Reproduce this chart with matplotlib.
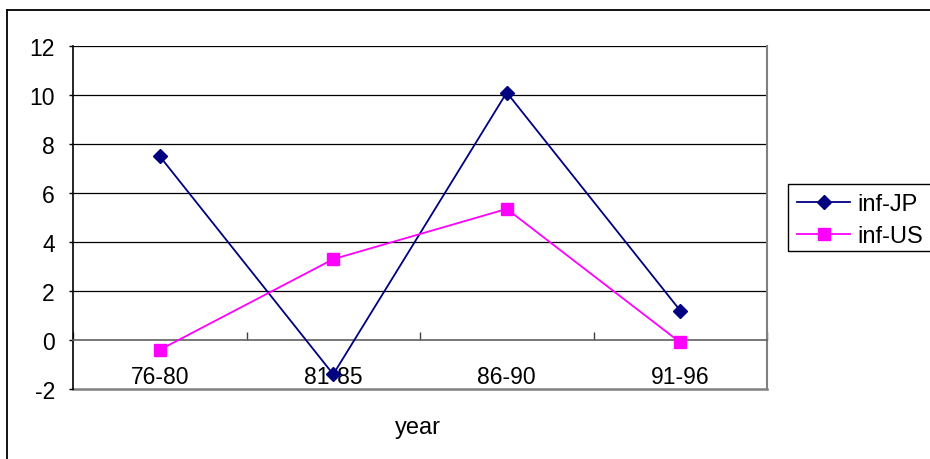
import numpy as np
import matplotlib.pyplot as plt
import matplotlib.patches as patches
from matplotlib.lines import Line2D

plt.rcParams['font.family'] = ['Liberation Sans', 'DejaVu Sans']
plt.rcParams['font.size'] = 16.5

periods = ['76-80', '81-85', '86-90', '91-96']
inf_jp = [7.5, -1.4, 10.1, 1.2]
inf_us = [-0.4, 3.3, 5.35, -0.1]
yticks = [-2, 0, 2, 4, 6, 8, 10, 12]

W, H = 930, 460
fig = plt.figure(figsize=(W / 100, H / 100), dpi=100)

# plot area in pixel coords of the reference
x0, x1, ytop, ybot = 73, 767, 47, 390
ax = fig.add_axes([x0 / W, 1 - ybot / H, (x1 - x0) / W, (ybot - ytop) / H])

x = np.arange(len(periods))
ax.plot(x, inf_jp, color='#000080', lw=1.3, marker='D', ms=7.5, label='inf-JP', zorder=4)
ax.plot(x, inf_us, color='#FF00FF', lw=1.3, marker='s', ms=9, label='inf-US', zorder=4)

ax.set_xlim(-0.5, len(periods) - 0.5)
ax.set_ylim(-2, 12)
ax.set_yticks(yticks)
ax.set_yticklabels([str(v) for v in yticks])

for v in yticks[2:]:
    ax.axhline(v, color='black', lw=0.9, zorder=1)

# x axis crosses at zero, Excel style
ax.spines['bottom'].set_position(('data', 0))
ax.spines['bottom'].set_color('#606060')
ax.spines['bottom'].set_linewidth(1.2)
ax.spines['top'].set_visible(False)
ax.spines['right'].set_color('#808080')
ax.spines['right'].set_linewidth(1.5)
ax.spines['left'].set_color('black')
ax.spines['left'].set_linewidth(1.2)
ax.axhline(-2, color='#808080', lw=1.8, zorder=1, clip_on=False)

ax.set_xticks(x)
ax.set_xticklabels(periods)
ax.set_xticks(np.arange(len(periods) + 1) - 0.5, minor=True)
ax.tick_params(axis='x', which='major', length=0, pad=18)
ax.tick_params(axis='x', which='minor', direction='in', length=6, color='#404040', width=1)
ax.tick_params(axis='y', direction='out', length=3, pad=10, width=1)

fig.text(418 / W, 1 - 428 / H, 'year', ha='center', va='center', fontsize=17)

# outer chart frame (only top and left visible)
fig.add_artist(Line2D([7 / W, 7 / W], [0, 1 - 11 / H], color='black', lw=1.3))
fig.add_artist(Line2D([7 / W, 1], [1 - 11 / H, 1 - 11 / H], color='black', lw=1.3))

# legend
fig.add_artist(patches.Rectangle((788 / W, 1 - 252 / H), 160 / W, 67 / H,
                                 transform=fig.transFigure, fill=False,
                                 edgecolor='black', lw=1.0))
fig.legend(loc='center left', bbox_to_anchor=(797 / W, 1 - 221 / H), frameon=False,
           handlelength=2.25, handletextpad=0.3, labelspacing=0.42,
           borderpad=0, borderaxespad=0, fontsize=17)

plt.savefig('out.png', dpi=100)
